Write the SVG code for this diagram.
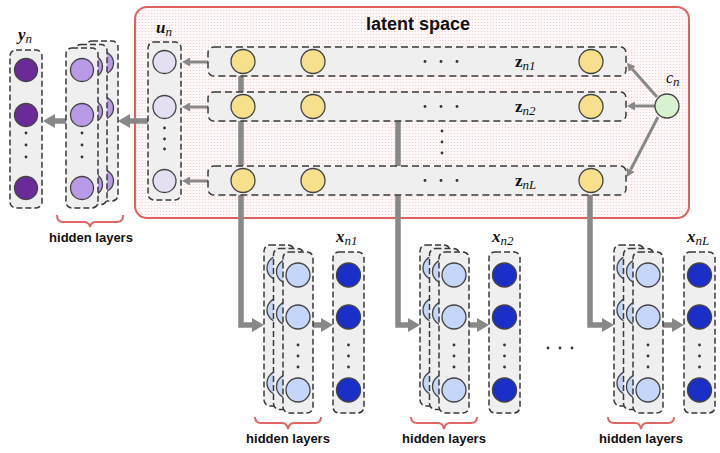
<svg xmlns="http://www.w3.org/2000/svg" width="720" height="453" viewBox="0 0 720 453">
<style>
.dbox{fill:#efefef;stroke:#3a3a3a;stroke-width:1.5;stroke-dasharray:6 3}
.row{fill:#efefef;stroke:#3a3a3a;stroke-width:1.5;stroke-dasharray:7 4}
.nd{stroke:#444;stroke-width:1.3}
.yel{fill:#f6e08c}
.uu{fill:#e5dff4}
.yy{fill:#6a2a98}
.hp{fill:#b99ae6}
.hb{fill:#c6d6f8}
.xx{fill:#1a2ec8}
.dot{fill:#333}
.thick{fill:none;stroke:#888;stroke-width:5.5}
.thin{fill:none;stroke:#888;stroke-width:3}
.brace{fill:none;stroke:#e06666;stroke-width:2}
.lbl{font-family:"Liberation Sans",Arial,sans-serif;font-weight:bold;font-size:13px;fill:#111;text-anchor:middle}
.title{font-family:"Liberation Sans",Arial,sans-serif;font-weight:bold;font-size:18px;fill:#111;text-anchor:middle}
.math{font-family:"Liberation Serif","Times New Roman",serif;fill:#111}
.sub{font-style:italic;font-weight:normal;font-size:13px}
</style>
<defs>
<pattern id="dots" width="3" height="3" patternUnits="userSpaceOnUse">
<rect width="3" height="3" fill="#fff8f8"/>
<circle cx="1.5" cy="1.5" r="0.6" fill="#f5c8c8"/>
</pattern>
<marker id="big" markerUnits="userSpaceOnUse" markerWidth="12" markerHeight="14" refX="0" refY="7" orient="auto" viewBox="0 0 12 14">
<path d="M0,0 L12,7 L0,14 z" fill="#888"/>
</marker>
<marker id="small" markerUnits="userSpaceOnUse" markerWidth="8" markerHeight="9" refX="0" refY="4.5" orient="auto" viewBox="0 0 8 9">
<path d="M0,0 L8,4.5 L0,9 z" fill="#888"/>
</marker>
<g id="hblue">
<rect class="dbox" x="0" y="0" width="30" height="161" rx="6"/>
<circle class="nd hb" cx="15" cy="23" r="12"/>
<circle class="nd hb" cx="15" cy="65" r="12"/>
<circle class="nd hb" cx="15" cy="138" r="12"/>
</g>
<g id="xcol">
<rect class="dbox" x="0" y="0" width="31" height="161" rx="6"/>
<circle class="nd xx" cx="15.5" cy="23" r="12"/>
<circle class="nd xx" cx="15.5" cy="65" r="12"/>
<circle class="nd xx" cx="15.5" cy="138" r="12"/>
<circle class="dot" cx="15.5" cy="93" r="1.4"/>
<circle class="dot" cx="15.5" cy="104" r="1.4"/>
<circle class="dot" cx="15.5" cy="115" r="1.4"/>
</g>
</defs>

<g id="latent-space">
<rect x="135" y="7" width="554" height="211" rx="12" fill="url(#dots)" stroke="#e06060" stroke-width="2"/>
<text class="title" x="418" y="30">latent space</text>
</g>

<g id="connectors">
<path class="thick" d="M241,76 V325 H252" marker-end="url(#big)"/>
<path class="thick" d="M398,121 V325 H408" marker-end="url(#big)"/>
<path class="thick" d="M590,195 V325 H602" marker-end="url(#big)"/>
<path class="thick" d="M313,325 H321" marker-end="url(#big)"/>
<path class="thick" d="M469,325 H477" marker-end="url(#big)"/>
<path class="thick" d="M663,325 H672" marker-end="url(#big)"/>
<path class="thick" d="M148,121 H130" marker-end="url(#big)"/>
<path class="thick" d="M66,121 H55" marker-end="url(#big)"/>
<path class="thin" d="M208,62 H190" marker-end="url(#small)"/>
<path class="thin" d="M208,107 H190" marker-end="url(#small)"/>
<path class="thin" d="M208,181 H190" marker-end="url(#small)"/>
<path class="thin" d="M657,97 L632.2,69.1" marker-end="url(#small)"/>
<path class="thin" d="M655,106 H635" marker-end="url(#small)"/>
<path class="thin" d="M658,117 L630.6,169.8" marker-end="url(#small)"/>
</g>

<g id="z1">
<rect class="row" x="208" y="47" width="418" height="29" rx="6"/>
<circle class="nd yel" cx="243" cy="61.5" r="12"/>
<circle class="nd yel" cx="313" cy="61.5" r="12"/>
<circle class="nd yel" cx="591" cy="61.5" r="12"/>
<circle class="dot" cx="425" cy="61.5" r="1.4"/><circle class="dot" cx="441" cy="61.5" r="1.4"/><circle class="dot" cx="457" cy="61.5" r="1.4"/>
<text class="math" x="515" y="67" font-size="17" font-weight="bold">z<tspan class="sub" dy="3">n1</tspan></text>
</g>
<g id="z2">
<rect class="row" x="208" y="92" width="418" height="29" rx="6"/>
<circle class="nd yel" cx="243" cy="106.5" r="12"/>
<circle class="nd yel" cx="313" cy="106.5" r="12"/>
<circle class="nd yel" cx="591" cy="106.5" r="12"/>
<circle class="dot" cx="425" cy="106.5" r="1.4"/><circle class="dot" cx="441" cy="106.5" r="1.4"/><circle class="dot" cx="457" cy="106.5" r="1.4"/>
<text class="math" x="515" y="112" font-size="17" font-weight="bold">z<tspan class="sub" dy="3">n2</tspan></text>
</g>
<g id="zdots">
<circle class="dot" cx="442" cy="131" r="1.4"/><circle class="dot" cx="442" cy="142" r="1.4"/><circle class="dot" cx="442" cy="153" r="1.4"/>
</g>
<g id="zL">
<rect class="row" x="208" y="166" width="418" height="29" rx="6"/>
<circle class="nd yel" cx="243" cy="180.5" r="12"/>
<circle class="nd yel" cx="313" cy="180.5" r="12"/>
<circle class="nd yel" cx="591" cy="180.5" r="12"/>
<circle class="dot" cx="425" cy="180.5" r="1.4"/><circle class="dot" cx="441" cy="180.5" r="1.4"/><circle class="dot" cx="457" cy="180.5" r="1.4"/>
<text class="math" x="515" y="186" font-size="17" font-weight="bold">z<tspan class="sub" dy="3">nL</tspan></text>
</g>

<g id="cn">
<circle class="nd" cx="667" cy="106" r="12" fill="#d8f2d0"/>
<text class="math" x="666" y="83" font-size="16" font-style="italic">c<tspan class="sub" dy="3">n</tspan></text>
</g>

<g id="un">
<rect class="dbox" x="148" y="42" width="33" height="158" rx="6"/>
<circle class="nd uu" cx="164.5" cy="62" r="11.5"/>
<circle class="nd uu" cx="164.5" cy="107" r="11.5"/>
<circle class="nd uu" cx="164.5" cy="181" r="11.5"/>
<circle class="dot" cx="164.5" cy="128" r="1.4"/><circle class="dot" cx="164.5" cy="139" r="1.4"/><circle class="dot" cx="164.5" cy="149" r="1.4"/>
<text class="math" x="156" y="33" font-size="17" font-weight="bold" font-style="italic">u<tspan class="sub" dy="3">n</tspan></text>
</g>

<g id="yn">
<rect class="dbox" x="10" y="50" width="32" height="158" rx="6"/>
<circle class="nd yy" cx="26" cy="70" r="11.5"/>
<circle class="nd yy" cx="26" cy="115" r="11.5"/>
<circle class="nd yy" cx="26" cy="188" r="11.5"/>
<circle class="dot" cx="26" cy="133" r="1.4"/><circle class="dot" cx="26" cy="145" r="1.4"/><circle class="dot" cx="26" cy="157" r="1.4"/>
<text class="math" x="18" y="40" font-size="17" font-weight="bold" font-style="italic">y<tspan class="sub" dy="3">n</tspan></text>
</g>

<g id="hidden-y">
<g transform="translate(86,41)">
<rect class="dbox" x="0" y="0" width="32" height="160" rx="6"/>
<circle class="nd hp" cx="16" cy="22" r="11.5"/><circle class="nd hp" cx="16" cy="67" r="11.5"/><circle class="nd hp" cx="16" cy="140" r="11.5"/>
</g>
<g transform="translate(75,44.5)">
<rect class="dbox" x="0" y="0" width="32" height="160" rx="6"/>
<circle class="nd hp" cx="16" cy="22" r="11.5"/><circle class="nd hp" cx="16" cy="67" r="11.5"/><circle class="nd hp" cx="16" cy="140" r="11.5"/>
</g>
<g transform="translate(66,48)">
<rect class="dbox" x="0" y="0" width="32" height="160" rx="6"/>
<circle class="nd hp" cx="16" cy="22" r="11.5"/><circle class="nd hp" cx="16" cy="67" r="11.5"/><circle class="nd hp" cx="16" cy="140" r="11.5"/>
<circle class="dot" cx="16" cy="85" r="1.4"/><circle class="dot" cx="16" cy="97" r="1.4"/><circle class="dot" cx="16" cy="109" r="1.4"/>
</g>
<path class="brace" d="M57,215 Q57,222 63,222 H84 Q89,222 90,227 Q91,222 96,222 H117 Q123,222 123,215"/>
<text class="lbl" x="91" y="242">hidden layers</text>
</g>

<g id="hidden-1">
<use href="#hblue" x="264" y="245"/>
<use href="#hblue" x="273.5" y="248.5"/>
<use href="#hblue" x="283" y="252"/>
<circle class="dot" cx="298" cy="345" r="1.4"/><circle class="dot" cx="298" cy="356" r="1.4"/><circle class="dot" cx="298" cy="367" r="1.4"/>
<path class="brace" d="M255,417 Q255,423 261,423 H282 Q287,423 288,429 Q289,423 294,423 H315 Q321,423 321,417"/>
<text class="lbl" x="288" y="443">hidden layers</text>
</g>
<g id="x1">
<use href="#xcol" x="333" y="252"/>
<text class="math" x="336" y="242" font-size="17" font-weight="bold" font-style="italic">x<tspan class="sub" dy="3">n1</tspan></text>
</g>

<g id="hidden-2">
<use href="#hblue" x="420" y="245"/>
<use href="#hblue" x="429.5" y="248.5"/>
<use href="#hblue" x="439" y="252"/>
<circle class="dot" cx="454" cy="345" r="1.4"/><circle class="dot" cx="454" cy="356" r="1.4"/><circle class="dot" cx="454" cy="367" r="1.4"/>
<path class="brace" d="M411,417 Q411,423 417,423 H438 Q443,423 444,429 Q445,423 450,423 H471 Q477,423 477,417"/>
<text class="lbl" x="444" y="443">hidden layers</text>
</g>
<g id="x2">
<use href="#xcol" x="489" y="252"/>
<text class="math" x="492" y="242" font-size="17" font-weight="bold" font-style="italic">x<tspan class="sub" dy="3">n2</tspan></text>
</g>

<g id="ellipsis">
<circle class="dot" cx="548" cy="348" r="1.4"/><circle class="dot" cx="560" cy="348" r="1.4"/><circle class="dot" cx="572" cy="348" r="1.4"/>
</g>

<g id="hidden-L">
<use href="#hblue" x="614" y="245"/>
<use href="#hblue" x="623.5" y="248.5"/>
<use href="#hblue" x="633" y="252"/>
<circle class="dot" cx="648" cy="345" r="1.4"/><circle class="dot" cx="648" cy="356" r="1.4"/><circle class="dot" cx="648" cy="367" r="1.4"/>
<path class="brace" d="M608,417 Q608,423 614,423 H635 Q640,423 641,429 Q642,423 647,423 H668 Q674,423 674,417"/>
<text class="lbl" x="641" y="443">hidden layers</text>
</g>
<g id="xL">
<use href="#xcol" x="684" y="252"/>
<text class="math" x="687" y="242" font-size="17" font-weight="bold" font-style="italic">x<tspan class="sub" dy="3">nL</tspan></text>
</g>
</svg>
